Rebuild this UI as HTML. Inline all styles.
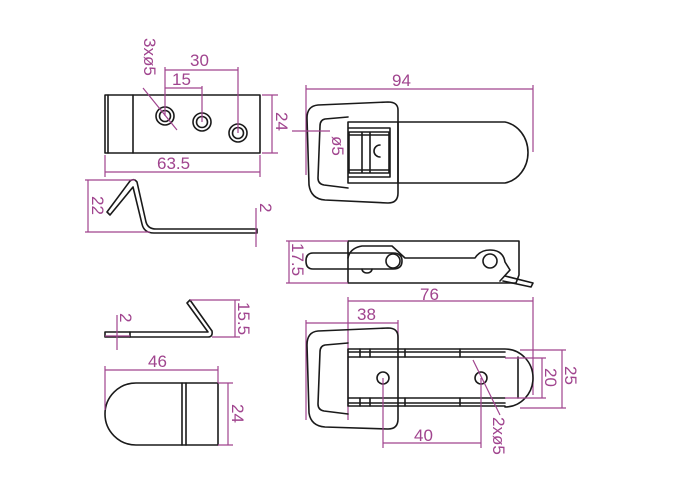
<!DOCTYPE html>
<html><head><meta charset="utf-8"><style>
html,body{margin:0;padding:0;background:#fff}
svg{display:block}
.k{fill:none;stroke:#1a1a1a;stroke-width:1.6;stroke-linejoin:round;stroke-linecap:round}
.d{fill:none;stroke:#a0448e;stroke-width:1.2}
text{font-family:"Liberation Sans",sans-serif;font-size:17px;fill:#a0448e}
</style></head><body>
<svg width="700" height="500" viewBox="0 0 700 500" xmlns="http://www.w3.org/2000/svg">
<!-- top-left plate -->
<rect class="k" x="105" y="95" width="155" height="58"/>
<line class="k" x1="108" y1="95" x2="108" y2="153"/>
<line class="k" x1="133" y1="95" x2="133" y2="153"/>
<circle class="k" cx="165" cy="116" r="9"/><circle class="k" cx="165" cy="116" r="5.5"/>
<circle class="k" cx="202" cy="122" r="9"/><circle class="k" cx="202" cy="122" r="5.5"/>
<circle class="k" cx="238" cy="133" r="9"/><circle class="k" cx="238" cy="133" r="5.5"/>
<path class="d" d="M165 116V67M238 133V67M202 122V86M165 70H238M165 88H202M143 88L177 130M105 155V177M260 155V177M105 172H260M262 95H278M262 153H278M272 95V153"/>
<text x="190" y="66">30</text><text x="172" y="85">15</text>
<text transform="translate(144,38) rotate(90)">3xø5</text>
<text transform="translate(276,112) rotate(90)">24</text>
<text x="157" y="169">63.5</text>
<!-- hook -->
<path class="k" d="M107 212L130 181Q134 178 137 182L146 222Q148 229 156 229H257V233H154Q144 233 142 224L133 187L110 215Z"/>
<path class="d" d="M85 180H135M85 232H150M88 180V232M256 208V247"/>
<text transform="translate(92,196) rotate(90)">22</text>
<text transform="translate(260,203) rotate(90)">2</text>
<!-- top view latch -->
<path class="d" d="M306 89H533M306 85V175M533 85V152"/>
<text x="392" y="86">94</text>
<path class="k" d="M318 105Q307 106 307 118L309 185Q311 199 325 200L388 203Q398 203 398 193L398 110Q398 102 388 102Z"/>
<path class="k" d="M348 117L325 119Q320 120 320 126L318 178Q318 184 324 185L348 188"/>
<path class="k" d="M348 122H505M348 183H505M505 122A28 31 0 0 1 505 183M348 122V183M398 122V183M348 128H390V177H348"/>
<path class="k" d="M349 132H389V173H349ZM362 132V173M370 132V173M349 135H389M349 170H389"/>
<path class="k" d="M380 145A6 6 0 0 0 380 157"/>
<path class="d" d="M292 131H330"/>
<text transform="translate(332,136) rotate(90)">ø5</text>
<!-- side view -->
<path class="k" d="M348 241H519V275L516 283H348Z"/>
<path class="k" d="M348 258Q350 248 362 246H392L405 258H475Q480 250 490 250Q503 250 505 262L510 270L500 281"/>
<path class="k" d="M313 253H393Q402 253 402 261Q402 269 393 269H313Q306 269 306 261Q306 253 313 253Z"/>
<circle class="k" cx="393" cy="261" r="7"/>
<circle class="k" cx="490" cy="261" r="7"/>
<path class="k" d="M505 276L533 283L531 287L503 281"/>
<path class="k" d="M362 269A5 4 0 0 0 372 269"/>
<path class="d" d="M286 241H348M286 283H348M289 241V283"/>
<text transform="translate(292,243) rotate(90)">17.5</text>
<!-- bottom view -->
<path class="d" d="M348 301H533M348 297V420M533 297V395M306 323H398M306 320V420M398 320V340"/>
<text x="420" y="300">76</text><text x="357" y="320">38</text>
<path class="k" d="M318 331Q307 332 307 345L309 413Q311 426 325 427L388 429Q398 429 398 419L398 337Q398 328 388 328Z"/>
<path class="k" d="M348 343L325 345Q320 346 320 352L318 404Q318 410 324 411L348 414"/>
<path class="k" d="M348 349H505M348 352H505M348 357H505M348 398H505M348 403H505M348 406H505M505 349A28 29 0 0 1 505 407M348 349V406M518 357V398"/>
<path class="k" d="M360 349V357M370 349V357M405 349V357M460 349V357M360 398V406M370 398V406M405 398V406M460 398V406"/>
<circle class="k" cx="383" cy="378" r="6"/><circle class="k" cx="481" cy="378" r="6"/>
<path class="d" d="M383 378V448M481 378V448M383 443H481M473 360L500 415M505 358H546M505 398H546M542 358V398M520 350H566M520 408H566M562 350V408"/>
<text x="414" y="441">40</text>
<text transform="translate(545,368) rotate(90)">20</text>
<text transform="translate(565,366) rotate(90)">25</text>
<text transform="translate(493,417) rotate(90)">2xø5</text>
<!-- small hook -->
<path class="k" d="M105 332H208L187 303L190 300L212 331Q213 337 208 337H105Z"/>
<line class="k" x1="130" y1="332" x2="130" y2="337"/>
<path class="d" d="M190 300H240M212 337H240M235 300V337M117 315V350M105 336H130"/>
<text transform="translate(238,302) rotate(90)">15.5</text>
<text transform="translate(120,313) rotate(90)">2</text>
<!-- tab -->
<path class="k" d="M136 383H218V445H136A31 31 0 0 1 136 383Z"/>
<path class="k" d="M182 383V445M186 383V445"/>
<path class="d" d="M105 370H218M105 366V410M218 366V383M218 383H233M218 445H233M228 383V445"/>
<text x="148" y="367">46</text>
<text transform="translate(232,404) rotate(90)">24</text>
</svg>
</body></html>
